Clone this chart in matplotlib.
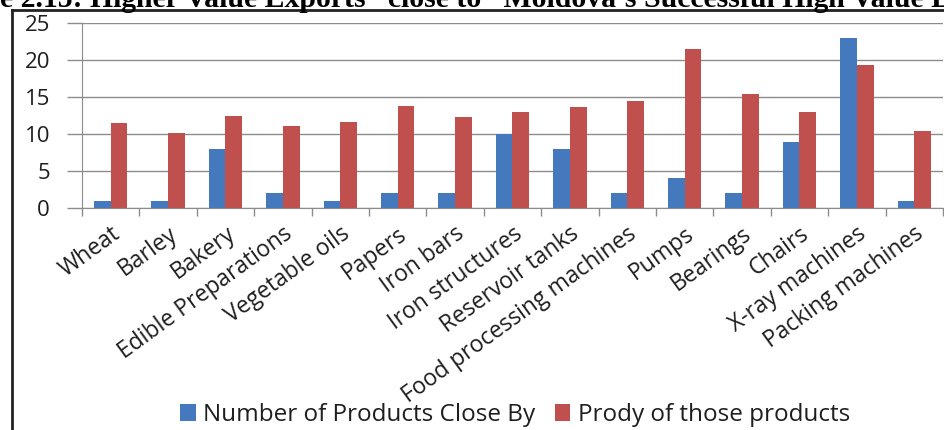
import numpy as np
import matplotlib
matplotlib.use("Agg")
import matplotlib.pyplot as plt
from matplotlib.lines import Line2D

categories = ["Wheat", "Barley", "Bakery", "Edible Preparations", "Vegetable oils",
              "Papers", "Iron bars", "Iron structures", "Reservoir tanks",
              "Food processing machines", "Pumps", "Bearings", "Chairs",
              "X-ray machines", "Packing machines"]
products_close_by = [1, 1, 8, 2, 1, 2, 2, 10, 8, 2, 4, 2, 9, 23, 1]
prody = [11.5, 10.2, 12.4, 11.1, 11.7, 13.8, 12.25, 13.0, 13.7, 14.5,
         21.5, 15.4, 13.0, 19.3, 10.4]
series_names = ["Number of Products Close By", "Prody of those products"]
yticks = [0, 5, 10, 15, 20, 25]
title = "e 2.15: Higher Value Exports \u201cclose to\u201d Moldova\u2019s Successful High Value Exports"

W, H = 945, 430
fig = plt.figure(figsize=(W / 100, H / 100), dpi=100)
fig.patch.set_facecolor("white")

FONT = "Open Sans"
blue, red = "#4479BE", "#C0504D"
grid_c = "#8C8C8C"
txt_c = "#1E1E1E"

ax = fig.add_axes([82 / W, (H - 208) / H, (943 - 82) / W, (208 - 23.3) / H])
x = np.arange(len(categories))
bw = 0.29
ax.bar(x - bw / 2, products_close_by, bw, color=blue, zorder=3, label=series_names[0])
ax.bar(x + bw / 2, prody, bw, color=red, zorder=3, label=series_names[1])

ax.set_xlim(-0.5, len(categories) - 0.5)
ax.set_ylim(0, 25)
ax.set_yticks(yticks)
ax.set_yticklabels([str(v) for v in yticks], fontfamily=FONT, fontsize=16, color=txt_c)
ax.yaxis.grid(True, color=grid_c, linewidth=1.0, zorder=0)
ax.tick_params(axis="y", length=11, width=1.0, color=grid_c, pad=12)

# category boundaries carry the x tick marks
ax.set_xticks(np.arange(len(categories) + 1) - 0.5, minor=False)
ax.set_xticklabels([])
ax.tick_params(axis="x", which="major", length=6, width=1.0, color=grid_c)
ax.set_xticks(x, minor=True)
ax.set_xticklabels(categories, minor=True, rotation=36, ha="right",
                   rotation_mode="anchor", fontfamily=FONT, fontsize=16.5, color=txt_c)
ax.tick_params(axis="x", which="minor", length=0, pad=10)

for side in ["top", "right"]:
    ax.spines[side].set_visible(False)
ax.spines["left"].set_color(grid_c)
ax.spines["bottom"].set_color(grid_c)

# legend along the bottom
leg = fig.legend(loc="center", bbox_to_anchor=(515 / W, (H - 415) / H), ncol=2,
                 frameon=False, prop={"family": FONT, "size": 17.5},
                 handlelength=0.65, handleheight=0.65, handletextpad=0.3,
                 columnspacing=0.8)
for t in leg.get_texts():
    t.set_color(txt_c)

# outer frame lines
fig.add_artist(Line2D([12 / W, 12 / W], [0, (H - 10) / H], color="#222222", linewidth=2))
fig.add_artist(Line2D([12 / W, 1], [(H - 10) / H, (H - 10) / H], color="#222222", linewidth=2))

# heading
fig.text(0, (H - 7) / H, title, fontfamily="Liberation Serif", fontweight="bold",
         fontsize=21.4, ha="left", va="baseline", color="black")

fig.savefig("out.png", dpi=100, facecolor="white")
